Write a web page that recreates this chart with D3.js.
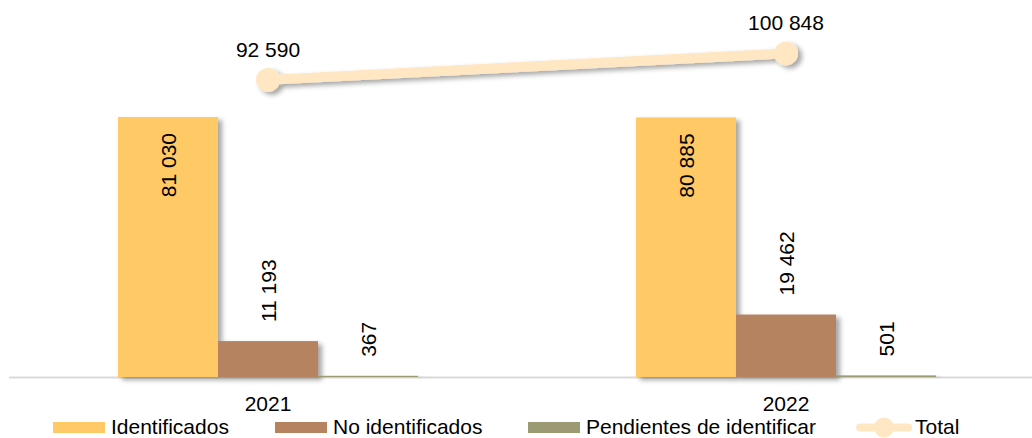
<!DOCTYPE html>
<html>
<head>
<meta charset="utf-8">
<script src="https://cdn.jsdelivr.net/npm/d3@7"></script>
<style>
  body { margin: 0; background: #fff; }
  text { font-family: "Liberation Sans", Arial, sans-serif; fill: #000; }
</style>
</head>
<body>
<div id="chart"></div>
<script>
var years = ["2021", "2022"];
var seriesNames = ["Identificados", "No identificados", "Pendientes de identificar"];
var identificados = [81030, 80885];
var noIdentificados = [11193, 19462];
var pendientes = [367, 501];
var totals = [92590, 100848];
var colors = ["#FFC966", "#B5835F", "#9B9A73"];
var lineColor = "#FFE7C4";

var width = 1032, height = 438, baseY = 377, fs = 21;

var fmt = function (v) {
	return d3.format(",")(v).replace(/,/g, " ");
};

var svg = d3.select("#chart").append("svg")
	.attr("width", width)
	.attr("height", height);

var defs = svg.append("defs");
defs.append("filter").attr("id", "shadow")
	.attr("x", "-20%").attr("y", "-20%").attr("width", "150%").attr("height", "150%")
	.append("feDropShadow")
	.attr("dx", 4).attr("dy", 3).attr("stdDeviation", 2.5)
	.attr("flood-color", "#000").attr("flood-opacity", 0.35);

var x0 = d3.scaleBand().domain(years).range([9, 1045]).padding(0);
var x1 = d3.scaleBand().domain(seriesNames).range([0, x0.bandwidth()])
	.paddingInner(0).paddingOuter(1.09);
var y = d3.scaleLinear().domain([0, 100000]).range([baseY, baseY - 320.9]);

// axis line
svg.append("line")
	.attr("x1", 9).attr("x2", width)
	.attr("y1", baseY + 0.5).attr("y2", baseY + 0.5)
	.attr("stroke", "#D9D9D9").attr("stroke-width", 2);

var rows = years.map(function (yr, i) {
	return [
		{ year: yr, s: seriesNames[0], v: identificados[i], c: colors[0] },
		{ year: yr, s: seriesNames[1], v: noIdentificados[i], c: colors[1] },
		{ year: yr, s: seriesNames[2], v: pendientes[i], c: colors[2] }
	];
});

var groups = svg.selectAll("g.year").data(rows).enter().append("g")
	.attr("class", "year")
	.attr("transform", function (d, i) { return "translate(" + x0(years[i]) + ",0)"; });

groups.selectAll("rect").data(function (d) { return d; }).enter().append("rect")
	.attr("x", function (d) { return x1(d.s); })
	.attr("width", x1.bandwidth())
	.attr("y", function (d) { return y(d.v); })
	.attr("height", function (d) { return baseY - y(d.v); })
	.attr("fill", function (d) { return d.c; })
	.attr("filter", "url(#shadow)");

// rotated value labels
groups.selectAll("text.val").data(function (d) { return d; }).enter().append("text")
	.attr("class", "val")
	.attr("font-size", fs)
	.attr("dominant-baseline", "central")
	.attr("text-anchor", function (d, i) { return i === 0 ? "end" : "start"; })
	.attr("transform", function (d, i) {
		var cx = x1(d.s) + x1.bandwidth() / 2;
		var ty = i === 0 ? y(d.v) + 16 : y(d.v) - 19;
		return "translate(" + cx + "," + ty + ") rotate(-90)";
	})
	.text(function (d) { return fmt(d.v); });

// category labels
svg.selectAll("text.cat").data(years).enter().append("text")
	.attr("class", "cat")
	.attr("x", function (d) { return x0(d) + x0.bandwidth() / 2; })
	.attr("y", 411)
	.attr("text-anchor", "middle")
	.attr("font-size", fs)
	.text(function (d) { return d; });

// total line
var pts = years.map(function (yr, i) {
	return [x0(yr) + x0.bandwidth() / 2, y(totals[i])];
});
var lineG = svg.append("g").attr("filter", "url(#shadow)");
lineG.append("path")
	.attr("d", d3.line()(pts))
	.attr("fill", "none")
	.attr("stroke", lineColor)
	.attr("stroke-width", 10)
	.attr("stroke-linecap", "round");
lineG.selectAll("circle").data(pts).enter().append("circle")
	.attr("cx", function (d) { return d[0]; })
	.attr("cy", function (d) { return d[1]; })
	.attr("r", 12)
	.attr("fill", lineColor);

svg.selectAll("text.tot").data(pts).enter().append("text")
	.attr("class", "tot")
	.attr("x", function (d) { return d[0]; })
	.attr("y", function (d) { return d[1] - 23; })
	.attr("text-anchor", "middle")
	.attr("font-size", fs)
	.text(function (d, i) { return fmt(totals[i]); });

// legend
var legendItems = [
	{ name: seriesNames[0], c: colors[0], x: 53 },
	{ name: seriesNames[1], c: colors[1], x: 275 },
	{ name: seriesNames[2], c: colors[2], x: 528 }
];
var lg = svg.append("g");
lg.selectAll("rect").data(legendItems).enter().append("rect")
	.attr("x", function (d) { return d.x; })
	.attr("y", 422)
	.attr("width", 52)
	.attr("height", 11)
	.attr("fill", function (d) { return d.c; });
lg.selectAll("text").data(legendItems).enter().append("text")
	.attr("x", function (d) { return d.x + 58; })
	.attr("y", 434)
	.attr("font-size", fs)
	.text(function (d) { return d.name; });

lg.append("line")
	.attr("x1", 860).attr("x2", 908)
	.attr("y1", 427.5).attr("y2", 427.5)
	.attr("stroke", lineColor).attr("stroke-width", 8)
	.attr("stroke-linecap", "round");
lg.append("circle")
	.attr("cx", 884).attr("cy", 427.5).attr("r", 10)
	.attr("fill", lineColor);
lg.append("text")
	.attr("x", 915).attr("y", 434)
	.attr("font-size", fs)
	.text("Total");
</script>
</body>
</html>
